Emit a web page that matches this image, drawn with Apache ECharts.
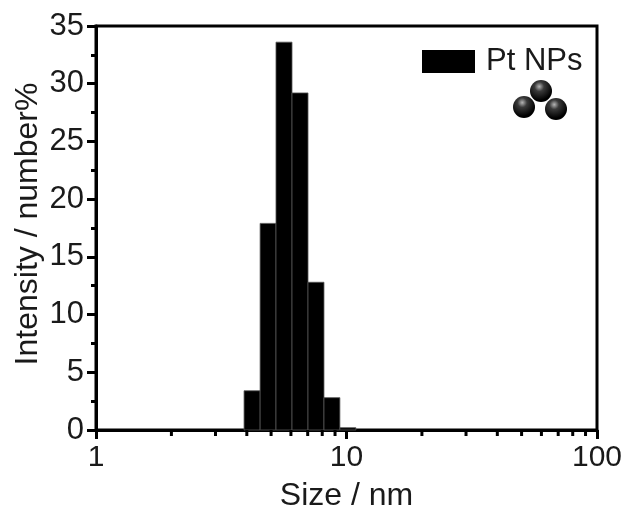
<!DOCTYPE html>
<html>
<head>
<meta charset="utf-8">
<style>
  html, body { margin: 0; padding: 0; background: #fff; }
  #chart { width: 623px; height: 508px; }
</style>
<script src="https://cdn.jsdelivr.net/npm/echarts@6/dist/echarts.min.js"></script>
</head>
<body>
<div id="chart"></div>
<script>
const binEdges = [3.9, 4.52, 5.23, 6.06, 7.02, 8.13, 9.41, 10.9]
const percents = [3.4, 17.9, 33.6, 29.2, 12.8, 2.8, 0.2]
const minorTicksX = [2, 3, 4, 5, 6, 7, 8, 9, 20, 30, 40, 50, 60, 70, 80, 90]
const seriesName = 'Pt NPs'

const FONT = '"Liberation Sans", Arial, sans-serif'
const TEXT = '#1a1a1a'

const chart = echarts.init(document.getElementById('chart'))

function ball(cx, cy) {
  return {
    type: 'circle',
    shape: { cx, cy, r: 11 },
    style: {
      fill: new echarts.graphic.RadialGradient(0.42, 0.3, 0.62, [
        { offset: 0, color: '#b5b5b5' },
        { offset: 0.35, color: '#3a3a3a' },
        { offset: 1, color: '#000' }
      ])
    }
  }
}

chart.setOption({
  animation: false,
  backgroundColor: '#fff',
  grid: {
    left: 96, right: 26, top: 26, bottom: 78,
    outerBoundsMode: 'none',
    show: true, borderColor: '#000', borderWidth: 3, backgroundColor: 'transparent'
  },
  legend: {
    left: 417, top: 41,
    itemWidth: 53, itemHeight: 23, itemGap: 8,
    icon: 'rect',
    data: [seriesName],
    textStyle: { fontFamily: FONT, fontSize: 31, color: TEXT, padding: [0, 0, 0, 6] }
  },
  xAxis: {
    type: 'log', logBase: 10, min: 1, max: 100,
    name: 'Size / nm', nameLocation: 'middle', nameGap: 50,
    nameMoveOverlap: false,
    nameTextStyle: { fontFamily: FONT, fontSize: 32, color: TEXT },
    axisLine: { onZero: false, lineStyle: { color: '#000', width: 3 } },
    axisTick: { length: 9, lineStyle: { color: '#000', width: 3 } },
    axisLabel: { fontFamily: FONT, fontSize: 30, color: TEXT, margin: 13 },
    splitLine: { show: false }
  },
  yAxis: {
    type: 'value', min: 0, max: 35, interval: 5,
    name: 'Intensity / number%', nameLocation: 'middle', nameGap: 52,
    nameMoveOverlap: false,
    nameTextStyle: { fontFamily: FONT, fontSize: 32, color: TEXT, padding: [0, 0, 0, 8] },
    axisLine: { lineStyle: { color: '#000', width: 3 } },
    axisTick: { length: 9, lineStyle: { color: '#000', width: 3 } },
    minorTick: { show: true, splitNumber: 2, length: 5, lineStyle: { color: '#000', width: 3 } },
    axisLabel: { fontFamily: FONT, fontSize: 31, color: TEXT, margin: 12 },
    splitLine: { show: false }
  },
  series: [
    {
      name: seriesName,
      type: 'custom',
      itemStyle: { color: '#000' },
      encode: { x: [0, 1], y: 2 },
      data: percents.map((v, i) => [binEdges[i], binEdges[i + 1], v]),
      renderItem: (params, api) => {
        const a = api.coord([api.value(0), 0])
        const b = api.coord([api.value(1), api.value(2)])
        return {
          type: 'rect',
          shape: { x: a[0], y: b[1], width: b[0] - a[0], height: a[1] - b[1] },
          style: { fill: '#000', stroke: '#555', lineWidth: 0.8 }
        }
      }
    },
    {
      type: 'custom',
      silent: true,
      encode: { x: 0, y: 1 },
      data: minorTicksX.map(v => [v, 0]),
      renderItem: (params, api) => {
        const p = api.coord([api.value(0), 0])
        return {
          type: 'line',
          shape: { x1: p[0], y1: p[1], x2: p[0], y2: p[1] + 6 },
          style: { stroke: '#000', lineWidth: 3 }
        }
      }
    }
  ],
  graphic: { elements: [ball(524, 107), ball(541, 91), ball(556, 109)] }
})
</script>
</body>
</html>
